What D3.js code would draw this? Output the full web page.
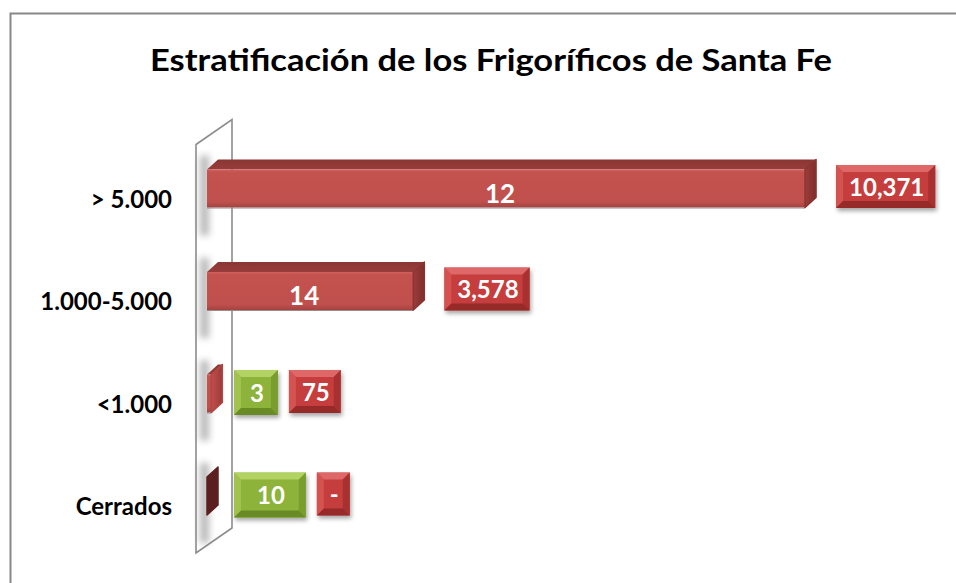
<!DOCTYPE html>
<html>
<head>
<meta charset="utf-8">
<script src="https://cdn.jsdelivr.net/npm/d3@7"></script>
<style>
  body { margin: 0; background: #fff; }
  svg { display: block; }
  text { font-family: Lato, "Open Sans", sans-serif; font-weight: bold; }
</style>
</head>
<body>
<svg id="chart" width="956" height="583"></svg>
<script>
// data
const categories = ["> 5.000", "1.000-5.000", "<1.000", "Cerrados"];
const capacidad = [10371, 3578, 75, 0];
const capacidadLabels = ["10,371", "3,578", "75", "-"];
const frigorificos = [12, 14, 3, 10];
const title = "Estratificación de los Frigoríficos de Santa Fe";

const svg = d3.select("#chart");
const width = Number(svg.attr("width"));
const height = Number(svg.attr("height"));

const dx = 11, dy = -10;   // 3d depth offset
const barH = 38;

const x = d3.scaleLinear().domain([0, 12000]).range([207, 899]);
const y = d3.scalePoint().domain(categories).range([188.5, 496]);

const defs = svg.append("defs");

function linGrad(id, stops, vertical = true) {
  const g = defs.append("linearGradient").attr("id", id)
    .attr("x1", 0).attr("y1", 0).attr("x2", vertical ? 0 : 1).attr("y2", vertical ? 1 : 0);
  stops.forEach(s => g.append("stop").attr("offset", s[0]).attr("stop-color", s[1]));
}
linGrad("barFront", [[0, "#d3625f"], [0.07, "#c4524f"], [0.85, "#c0504d"], [1, "#a44240"]]);
linGrad("barTop", [[0, "#8a3634"], [1, "#973d3b"]]);
linGrad("barSide", [[0, "#9c3d3b"], [1, "#7e2d2b"]], false);
linGrad("smallSide", [[0, "#c24f4c"], [1, "#9a3a38"]], false);

const blur = defs.append("filter").attr("id", "blur")
  .attr("x", "-100%").attr("y", "-50%").attr("width", "300%").attr("height", "200%");
blur.append("feGaussianBlur").attr("stdDeviation", 3.5);

const drop = defs.append("filter").attr("id", "drop")
  .attr("x", "-20%").attr("y", "-20%").attr("width", "140%").attr("height", "160%");
drop.append("feDropShadow").attr("dx", 1.5).attr("dy", 3).attr("stdDeviation", 2.2)
  .attr("flood-color", "#000").attr("flood-opacity", 0.35);

// chart frame
svg.append("rect")
  .attr("x", 10.5).attr("y", 13.5).attr("width", width + 20).attr("height", height + 20)
  .attr("fill", "none").attr("stroke", "#888").attr("stroke-width", 2);

// title
svg.append("text")
  .attr("x", 491).attr("y", 71)
  .attr("text-anchor", "middle")
  .attr("font-size", 31)
  .attr("textLength", 682).attr("lengthAdjust", "spacingAndGlyphs")
  .attr("fill", "#000")
  .text(title);

// back wall
const wx0 = 196, wx1 = wx0 + 36;
const wTop = y(categories[0]) - 44, wBot = y(categories[categories.length - 1]) + 57;
svg.append("polygon")
  .attr("points", [[wx0, wTop], [wx1, wTop - 25], [wx1, wBot - 25], [wx0, wBot]].join(" "))
  .attr("fill", "#fff").attr("stroke", "#8c8c8c").attr("stroke-width", 1.6);

// category labels
svg.append("g").selectAll("text")
  .data(categories)
  .join("text")
  .attr("x", 172)
  .attr("y", d => y(d) + 19)
  .attr("text-anchor", "end")
  .attr("font-size", 24)
  .attr("fill", "#000")
  .text(d => d);

const rows = categories.map((c, i) => ({
  cat: c, value: capacidad[i], label: capacidadLabels[i], count: frigorificos[i]
}));

// wall shadows behind bars
svg.append("g").selectAll("rect")
  .data(rows)
  .join("rect")
  .attr("x", 200).attr("width", 9)
  .attr("y", d => y(d.cat) - barH / 2 - 14)
  .attr("height", barH + 42)
  .attr("fill", "#808080").attr("opacity", 0.55)
  .attr("filter", "url(#blur)");

// bars
const bars = svg.append("g").selectAll("g")
  .data(rows)
  .join("g");

bars.each(function (d) {
  const g = d3.select(this);
  const x0 = x(0), x1 = x(d.value);
  const yT = y(d.cat) - barH / 2, yB = yT + barH;
  const wide = x1 - x0 > 20;
  if (x1 - x0 > 0.5) {
    g.append("polygon")
      .attr("points", [[x0, yT], [x0 + dx, yT + dy], [x1 + dx, yT + dy], [x1, yT]].join(" "))
      .attr("fill", "url(#barTop)");
    g.append("rect")
      .attr("x", x0).attr("y", yT).attr("width", x1 - x0).attr("height", barH)
      .attr("fill", "url(#barFront)");
    g.append("line")
      .attr("x1", x0).attr("x2", x1).attr("y1", yB + 0.5).attr("y2", yB + 0.5)
      .attr("stroke", "#9a8a8a").attr("stroke-width", 1);
  }
  const sideFill = d.value <= 0 ? "#5c1f1f" : (wide ? "url(#barSide)" : "url(#smallSide)");
  const sideStroke = d.value <= 0 ? "#5c1f1f" : (wide ? "#8a3432" : "#b34542");
  g.append("polygon")
    .attr("points", [[x1, yT], [x1 + dx, yT + dy], [x1 + dx, yB + dy], [x1, yB]].join(" "))
    .attr("fill", sideFill)
    .attr("stroke", sideStroke)
    .attr("stroke-width", 1.5).attr("stroke-linejoin", "round");
});

// bevelled label box
const schemes = {
  red:   { base: "#c63e3d", top: "#e2706e", left: "#d65654", right: "#a22f2e", bottom: "#8c2726" },
  green: { base: "#8db33b", top: "#b8d86c", left: "#a2c552", right: "#769a2c", bottom: "#638422" }
};

function labelBox(x0, cy, text, scheme, pad, h) {
  const s = schemes[scheme];
  const g = svg.append("g");
  const t = g.append("text")
    .attr("font-size", 24).attr("fill", "#fff").attr("text-anchor", "middle")
    .text(text);
  const tw = t.node().getComputedTextLength();
  const w = Math.max(tw + pad * 2, 31);
  const yT = cy - h / 2, b = 7;
  const X0 = x0, X1 = x0 + w, Y0 = yT, Y1 = yT + h;
  g.insert("rect", "text")
    .attr("x", X0).attr("y", Y0).attr("width", w).attr("height", h)
    .attr("fill", s.base).attr("filter", "url(#drop)");
  const faces = [
    [[X0, Y0], [X1, Y0], [X1 - b, Y0 + b], [X0 + b, Y0 + b], s.top],
    [[X0, Y0], [X0 + b, Y0 + b], [X0 + b, Y1 - b], [X0, Y1], s.left],
    [[X1, Y0], [X1, Y1], [X1 - b, Y1 - b], [X1 - b, Y0 + b], s.right],
    [[X0, Y1], [X0 + b, Y1 - b], [X1 - b, Y1 - b], [X1, Y1], s.bottom]
  ];
  faces.forEach(f => {
    g.insert("polygon", "text")
      .attr("points", f.slice(0, 4).join(" "))
      .attr("fill", f[4]).attr("opacity", 0.85);
  });
  t.attr("x", X0 + w / 2 + 1).attr("y", cy + 9);
  return X1;
}

rows.forEach(d => {
  const x0 = x(0), x1 = x(d.value);
  const cy = y(d.cat);
  let next;
  if (x1 - x0 > 70) {
    svg.append("text")
      .attr("x", (x0 + x1) / 2 - 6).attr("y", cy + 14)
      .attr("text-anchor", "middle")
      .attr("font-size", 26).attr("fill", "#fff")
      .text(d.count);
    next = x1 + dx + 20;
  } else {
    const gx = Math.max(x1 + dx, wx1) + 2;
    next = labelBox(gx, cy - 1, d.count, "green", d.count >= 10 ? 22 : 15, 45) + 11;
  }
  labelBox(next, cy - 2, d.label, "red", 12, 43);
});
</script>
</body>
</html>
